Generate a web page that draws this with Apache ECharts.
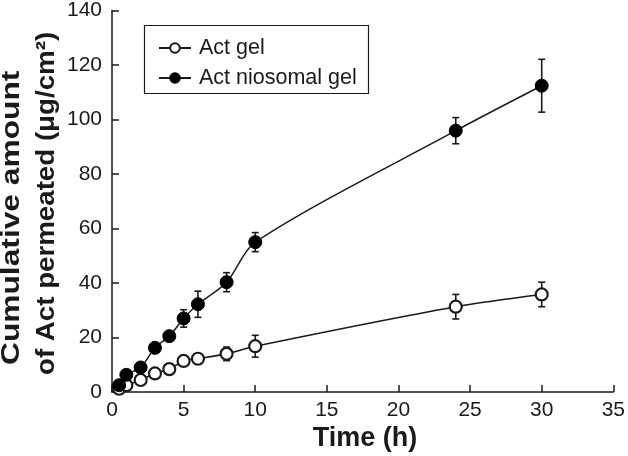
<!DOCTYPE html>
<html><head><meta charset="utf-8">
<script src="https://cdn.jsdelivr.net/npm/echarts@6/dist/echarts.min.js"></script>
<style>html,body{margin:0;padding:0;background:#fff}#c{width:628px;height:456px}</style>
</head><body><div id="c"></div>
<script>
const timeH = [0.5, 1, 2, 3, 4, 5, 6, 8, 10, 24, 30];
const actGel = [1.2, 2.5, 4.4, 6.8, 8.4, 11.4, 12.2, 14, 16.8, 31.3, 35.8];
const actGelErr = [0.3, 0.5, 0.8, 1, 1, 1.5, 1.5, 2.5, 4, 4.5, 4.5];
const actNio = [2.5, 6.3, 9, 16.2, 20.5, 27, 32.2, 40.3, 55, 95.9, 112.4];
const actNioErr = [0.5, 1, 1, 1, 1.5, 3.2, 4.8, 3.5, 3.5, 4.8, 9.7];
const xTicks = [0, 5, 10, 15, 20, 25, 30, 35];
const yTicks = [0, 20, 40, 60, 80, 100, 120, 140];

const FONT = 'Liberation Sans, Arial, sans-serif';
const chart = echarts.init(document.getElementById('c'));
function errData(vals, errs){ return timeH.map((t,i)=>[t, vals[i]-errs[i], vals[i]+errs[i]]); }
function errRender(params, api){
  const x = api.value(0);
  const lo = api.coord([x, api.value(1)]);
  const hi = api.coord([x, api.value(2)]);
  const w = 3.5;
  const st = {stroke:'#1a1a1a', lineWidth:1.6};
  return {type:'group', children:[
    {type:'line', shape:{x1:lo[0], y1:lo[1], x2:hi[0], y2:hi[1]}, style:st},
    {type:'line', shape:{x1:lo[0]-w, y1:lo[1], x2:lo[0]+w, y2:lo[1]}, style:st},
    {type:'line', shape:{x1:hi[0]-w, y1:hi[1], x2:hi[0]+w, y2:hi[1]}, style:st}
  ]};
}
chart.setOption({
  animation:false,
  backgroundColor:'#fff',
  grid:{left:112, right:12, top:8, bottom:64, containLabel:false},
  xAxis:{type:'value', min:0, max:35, interval:5,
    axisLine:{lineStyle:{color:'#1a1a1a', width:1.5}},
    axisTick:{inside:true, length:7, lineStyle:{color:'#1a1a1a', width:1.5}},
    axisLabel:{fontFamily:FONT, fontSize:21, color:'#1a1a1a', margin:8,
      formatter:v=>xTicks.includes(v)?String(v):''},
    splitLine:{show:false}},
  yAxis:{type:'value', min:0, max:140, interval:20,
    axisLine:{show:true, lineStyle:{color:'#1a1a1a', width:1.5}},
    axisTick:{show:true, inside:true, length:7, lineStyle:{color:'#1a1a1a', width:1.5}},
    axisLabel:{fontFamily:FONT, fontSize:21, color:'#1a1a1a', margin:10,
      formatter:v=>yTicks.includes(v)?String(v):''},
    splitLine:{show:false}},
  legend:{orient:'vertical', left:153, top:32, itemWidth:32, itemHeight:12, itemGap:8,
    textStyle:{fontFamily:FONT, fontSize:21.5, lineHeight:22, color:'#1a1a1a', padding:[0,0,0,3]},
    data:['Act gel','Act niosomal gel']},
  graphic:[
    {type:'rect', left:142, top:23, shape:{width:224, height:68}, style:{fill:'none', stroke:'#1a1a1a', lineWidth:1.2}, z:10},
    {type:'text', x:365, y:439, style:{text:'Time (h)', font:'bold 27px '+FONT, fill:'#1a1a1a', textAlign:'center', textVerticalAlign:'middle'}},
    {type:'text', x:11.5, y:365, rotation:Math.PI/2, scaleX:1.22, style:{text:'Cumulative amount', font:'bold 26px '+FONT, fill:'#1a1a1a', textAlign:'left', textVerticalAlign:'middle'}},
    {type:'text', x:47, y:375, rotation:Math.PI/2, scaleX:1.065, style:{text:'of Act permeated (μg/cm²)', font:'bold 26px '+FONT, fill:'#1a1a1a', textAlign:'left', textVerticalAlign:'middle'}}
  ],
  series:[
    {type:'custom', name:'errGel', renderItem:errRender, data:errData(actGel, actGelErr), z:1, silent:true},
    {type:'custom', name:'errNio', renderItem:errRender, data:errData(actNio, actNioErr), z:1, silent:true},
    {type:'line', name:'Act gel', data:timeH.map((t,i)=>[t, actGel[i]]), smooth:0.3,
      symbol:'circle', symbolSize:12, lineStyle:{color:'#1a1a1a', width:1.5},
      itemStyle:{color:'#fff', borderColor:'#1a1a1a', borderWidth:2.2}, z:3},
    {type:'line', name:'Act niosomal gel', data:timeH.map((t,i)=>[t, actNio[i]]), smooth:0.3,
      symbol:'circle', symbolSize:13, lineStyle:{color:'#1a1a1a', width:1.5},
      itemStyle:{color:'#000', borderColor:'#000', borderWidth:1}, z:4}
  ]
});
</script></body></html>
